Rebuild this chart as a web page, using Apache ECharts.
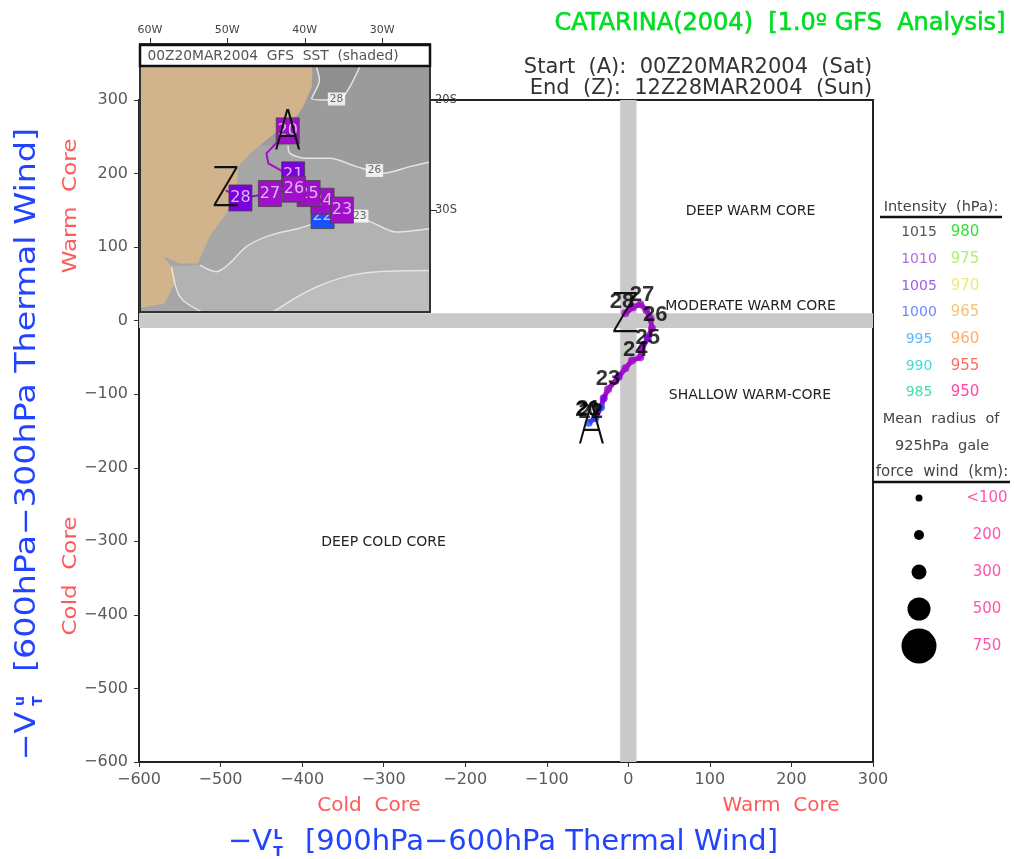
<!DOCTYPE html>
<html><head><meta charset="utf-8">
<style>html,body{margin:0;padding:0;background:#fff}#c{width:1014px;height:859px;filter:blur(0.6px)}</style>
<script src="https://cdn.jsdelivr.net/npm/echarts@6/dist/echarts.min.js"></script>
</head><body><div id="c"></div>
<script>
// ---- main phase-space data
const trackX = [-48.6,-40.5,-33.5,-30.2,-24.9,-11.8,-3.7,4.5,14.7,15.9,23.7,29,27,22,14.7,5.7,-3.7];
const trackY = [-138.7,-132.7,-117.8,-105.5,-93.3,-76.1,-64.8,-54.3,-49.8,-39.8,-24,-10.4,3.2,14.5,22.3,18.2,10];
const trackP = [1000,1000,1000,1005,1010,1005,1010,1010,1010,1010,1005,1010,1010,1010,1010,1010,1010];
const dayLabels = ['20','21','22','23','24','25','26','27','28'];
const dayX = [-50,-49,-46,-24.9,8.6,23.7,33.1,16.8,-7.7];
const dayY = [-122,-120,-124,-79.3,-39.8,-24,7.7,34.9,25];
const startEndMain = [[-45,-146,'A'],[-3.7,3.7,'Z']];
const tickMin = -600, xMax = 300, yMax = 300, tickStep = 100;
const neutralBand = [-10,10];
// ---- inset map data (lon, lat)
const coast = [[-39,-17],[-39.1,-18.8],[-40.2,-20.6],[-41.1,-21.5],[-42.8,-22.4],[-44.7,-23.5],[-47.1,-24.85],[-48.6,-26.06],[-48.8,-27.9],[-50.1,-30.3],[-52.3,-32.4],[-53.8,-34.85],[-56.1,-34.85],[-58.3,-34.2],[-57.2,-35.15],[-56.6,-36.4],[-58.1,-38.5],[-61.3,-38.9],[-61.4,-39.27],[-61.4,-17]];
const c28 = [[-38.5,-16.97],[-38.1,-18.2],[-39.1,-19.85],[-36.8,-20],[-35.05,-19.7],[-32.9,-16.97]];
const c26 = [[-42.15,-24.1],[-41.9,-24.85],[-39.8,-25.3],[-36.8,-25.3],[-33.3,-26.05],[-29.9,-26.65],[-26.45,-26.05],[-23.7,-25.6]];
const c23 = [[-53.55,-35],[-51.4,-35.6],[-49.7,-34.85],[-47.5,-33.3],[-44.5,-32.3],[-40.65,-31.65],[-36.8,-30.9],[-32.5,-30.9],[-28.2,-32],[-23.7,-31.65]];
const c20a = [[-57.2,-35.15],[-56.1,-37.9],[-53.3,-39.27]];
const c20b = [[-44.1,-39.27],[-38.5,-37],[-32.5,-35.75],[-23.7,-35.5]];
const sstLabels = [[-35.9,-19.9,'28'],[-31,-26.4,'26'],[-32.9,-30.55,'23']];
const mapTrack = [[-43.65,-23.9],[-44.95,-24.85],[-44.7,-25.75],[-42.8,-26.5],[-41.5,-26.8],[-37.7,-30.5],[-35.2,-30],[-37.7,-29.2],[-39.5,-28.5],[-41.4,-28.1],[-44.5,-28.5],[-46.3,-28.7],[-48.3,-28.9],[-50.2,-28.2]];
// draw order follows the overlap seen in the picture
const boxDays = ['20','21','22','24','23','25','27','26','28'];
const boxLon = [-42.2,-41.5,-37.7,-37.7,-35.2,-39.5,-44.5,-41.4,-48.3];
const boxLat = [-22.8,-26.8,-30.5,-29.2,-30,-28.5,-28.5,-28.1,-28.9];
const boxP = [1010,1005,1000,1010,1010,1010,1010,1010,1005];
const startEndMap = [[-42.2,-23.1,'A'],[-50.2,-28.3,'Z']];
// ---- legend
const intensityLeft = ['1015','1010','1005','1000','995','990','985'];
const intensityRight = ['980','975','970','965','960','955','950'];
const leftColors = ['#555555','#b468e4','#a25ce8','#6f86ff','#55bbff','#3fdcdc','#3fe0a8'];
const rightColors = ['#35e035','#b0f070','#ecec78','#f2c47c','#ffad6a','#ff6a60','#ff45a5'];
const radiusLabels = ['<100','200','300','500','750'];
const radiusDot = [7,10,15,23,35];
const pressureColor = {1000:'#1a50ff',1005:'#7a00e0',1010:'#a010c8'};

const TXT = "'DejaVu Sans'";
const txt = (x,y,text,size,fill,extra,styleExtra) => Object.assign({type:'text',x,y,z:50,silent:true,
  style:Object.assign({text,fill,font:`${size}px ${TXT}`,textAlign:'center',textVerticalAlign:'middle'},styleExtra||{})},extra||{});
const graphics = [];
// inset header and frame
graphics.push({type:'rect',z:40,shape:{x:140,y:44,width:290,height:268},style:{fill:'none',stroke:'#333',lineWidth:2}});
graphics.push({type:'rect',z:41,shape:{x:140,y:45,width:290,height:21},style:{fill:'#fff',stroke:'#111',lineWidth:2.5}});
graphics.push(txt(273,56,'00Z20MAR2004  GFS  SST  (shaded)',13.8,'#555'));
// titles
graphics.push(txt(780,24,'CATARINA(2004)  [1.0º GFS  Analysis]',24,'#00dd22',null,{stroke:'#00dd22',lineWidth:0.6}));
graphics.push(txt(698,68,'Start  (A):  00Z20MAR2004  (Sat)',21,'#333'));
graphics.push(txt(701,89,'End  (Z):  12Z28MAR2004  (Sun)',21,'#333'));
// region names
[['DEEP WARM CORE',750.5,211],['MODERATE WARM CORE',750.5,306],['SHALLOW WARM-CORE',750,395],['DEEP COLD CORE',383.5,542]]
 .forEach(r=>graphics.push(txt(r[1],r[2],r[0],14,'#222')));
// red core labels
const red='#ff5a5a';
graphics.push(txt(369,806,'Cold  Core',20,red));
graphics.push(txt(781,806,'Warm  Core',20,red));
graphics.push(txt(71,206,'Warm  Core',20,red,{rotation:Math.PI/2,scaleX:1.15}));
graphics.push(txt(71,576,'Cold  Core',20,red,{rotation:Math.PI/2,scaleX:1.15}));
// axis titles
const blue='#2244ff';
const sb={font:`bold 14px ${TXT}`};
graphics.push(txt(250,842,'−V',29,blue));
graphics.push(txt(278,852,'T',14,blue,null,sb));
graphics.push(txt(278,835,'L',14,blue,null,sb));
graphics.push(txt(541.5,842,'[900hPa−600hPa Thermal Wind]',29,blue));
graphics.push(txt(27,736,'−V',29,blue,{rotation:Math.PI/2,scaleX:1.1}));
graphics.push(txt(38,701,'T',14,blue,{rotation:Math.PI/2},sb));
graphics.push(txt(20,701,'u',14,blue,{rotation:Math.PI/2},sb));
graphics.push(txt(27,400,'[600hPa−300hPa Thermal Wind]',29,blue,{rotation:Math.PI/2,scaleX:1.15}));
// legend
graphics.push(txt(941,207,'Intensity  (hPa):',14.5,'#444'));
graphics.push({type:'line',z:50,shape:{x1:880,y1:217,x2:1002,y2:217},style:{stroke:'#111',lineWidth:2.5}});
const rowY=[232,259,286,312,339,366,392];
rowY.forEach((y,i)=>{
  graphics.push(txt(919,y,intensityLeft[i],14,leftColors[i]));
  graphics.push(txt(965,y,intensityRight[i],15,rightColors[i]));
});
graphics.push(txt(941,419,'Mean  radius  of',14.5,'#444'));
graphics.push(txt(942,446,'925hPa  gale',14.5,'#444'));
graphics.push(txt(942,472,'force  wind  (km):',15,'#444'));
graphics.push({type:'line',z:50,shape:{x1:873,y1:482,x2:1010,y2:482},style:{stroke:'#111',lineWidth:2.5}});
const dotY=[498,535,572,609,646];
dotY.forEach((y,i)=>{
  graphics.push({type:'circle',z:50,shape:{cx:919,cy:y,r:radiusDot[i]/2},style:{fill:'#000'}});
  graphics.push(txt(987,y,radiusLabels[i],15,'#ff55aa'));
});

const poly=(pts,fill,z)=>({type:'custom',xAxisIndex:1,yAxisIndex:1,z,silent:true,clip:false,
  data:[0],encode:{x:[],y:[]},
  renderItem:(p,api)=>({type:'polygon',shape:{points:pts.map(q=>api.coord(q))},style:{fill,stroke:null}})});
const contour=(pts)=>({type:'line',xAxisIndex:1,yAxisIndex:1,z:5,silent:true,symbol:'none',smooth:0.3,
  data:pts,lineStyle:{color:'#e4e4e4',width:1.5}});
const letter=(pts,xi,size,z)=>({type:'custom',xAxisIndex:xi,yAxisIndex:xi,z,silent:true,clip:false,
  data:pts,encode:{x:0,y:1},
  renderItem:(p,api)=>{const c=api.coord([api.value(0),api.value(1)]);
    return {type:'text',x:c[0],y:c[1],scaleX:0.72,scaleY:1,
      style:{text:pts[p.dataIndex][2],fill:'#111',font:`200 ${size}px 'DejaVu Sans'`,textAlign:'center',textVerticalAlign:'middle'}};}});

const L=-61.4,R=-23.7,B=-39.27,T=-17;
const option={
  animation:false,backgroundColor:'#fff',
  grid:[{left:139,top:100,width:734,height:662,show:true,borderColor:'#222',borderWidth:2,backgroundColor:'#fff'},
        {left:139,top:44,width:292,height:268,show:false}],
  xAxis:[{type:'value',min:tickMin,max:xMax,interval:tickStep,position:'bottom',splitLine:{show:false},
          axisLine:{onZero:false,lineStyle:{color:'#222',width:2}},axisTick:{length:5,lineStyle:{color:'#333'}},
          axisLabel:{color:'#5a5a5a',fontFamily:'DejaVu Sans',fontSize:16,margin:10,formatter:v=>String(v).replace('-','−')}},
         {gridIndex:1,type:'value',min:L,max:R,position:'top',splitLine:{show:false},axisLine:{show:false},
          axisTick:{length:6,customValues:[-60,-50,-40,-30],lineStyle:{color:'#333'}},
          axisLabel:{customValues:[-60,-50,-40,-30],color:'#444',fontFamily:'DejaVu Sans',fontSize:11,margin:8,formatter:v=>Math.abs(v)+'W'}}],
  yAxis:[{type:'value',min:tickMin,max:yMax,interval:tickStep,position:'left',splitLine:{show:false},
          axisLine:{onZero:false,lineStyle:{color:'#222',width:2}},axisTick:{length:5,lineStyle:{color:'#333'}},
          axisLabel:{color:'#5a5a5a',fontFamily:'DejaVu Sans',fontSize:16,margin:11,formatter:v=>String(v).replace('-','−')}},
         {gridIndex:1,type:'value',min:B,max:-14.9,position:'right',splitLine:{show:false},axisLine:{show:false},
          axisTick:{length:6,customValues:[-30,-20],lineStyle:{color:'#333'}},
          axisLabel:{customValues:[-30,-20],color:'#444',fontFamily:'DejaVu Sans',fontSize:11.5,margin:4,formatter:v=>Math.abs(v)+'S'}}],
  graphic:graphics,
  series:[
    {type:'custom',xAxisIndex:0,yAxisIndex:0,z:1,silent:true,clip:false,data:[0],encode:{x:[],y:[]},
     renderItem:(p,api)=>{
       const a=api.coord([neutralBand[0],yMax]),b=api.coord([neutralBand[1],tickMin]);
       const c=api.coord([tickMin,neutralBand[1]]),d=api.coord([xMax,neutralBand[0]]);
       return {type:'group',children:[
         {type:'rect',shape:{x:a[0],y:a[1],width:b[0]-a[0],height:b[1]-a[1]},style:{fill:'#c9c9c9'}},
         {type:'rect',shape:{x:c[0],y:c[1],width:d[0]-c[0],height:d[1]-c[1]},style:{fill:'#c9c9c9'}}]};}},
    {type:'line',xAxisIndex:0,yAxisIndex:0,z:6,silent:true,symbol:'none',data:trackX.map((x,i)=>[x,trackY[i]]),lineStyle:{color:'#a010c8',width:5}},
    {type:'scatter',xAxisIndex:0,yAxisIndex:0,z:7,silent:true,symbolSize:8,
     data:trackX.map((x,i)=>({value:[x,trackY[i]],itemStyle:{color:pressureColor[trackP[i]]}}))},
    {type:'scatter',xAxisIndex:0,yAxisIndex:0,z:8,silent:true,symbolSize:0,
     data:dayX.map((x,i)=>[x,dayY[i],dayLabels[i]]),
     label:{show:true,position:'inside',formatter:p=>p.value[2],color:'#000',textBorderWidth:0,fontFamily:'Liberation Sans',fontWeight:'bold',fontSize:22}},
    letter(startEndMain,0,56,9),
    // inset shading
    poly([[L,B],[R,B],[R,-14.9],[L,-14.9]],'#9b9b9b',3),
    poly(c28,'#8f8f8f',3),
    poly(c26.concat([[R,B],[L,B],[L,-24.1]]),'#a6a6a6',3),
    poly(c23.concat([[R,B],[-53.3,B],[-56.1,-37.9],[-57.2,-35.15]]),'#b2b2b2',3),
    poly(c20b.concat([[R,B]]),'#bdbdbd',3),
    poly(coast,'#d2b48c',4),
    contour(c28),contour(c26),contour(c23),contour(c20a),contour(c20b),
    {type:'scatter',xAxisIndex:1,yAxisIndex:1,z:6,silent:true,symbolSize:0,data:sstLabels,
     label:{show:true,position:'inside',formatter:p=>p.value[2],color:'#444',textBorderWidth:0,backgroundColor:'#fff',padding:[1,2],fontFamily:'DejaVu Sans',fontSize:10.5}},
    {type:'line',xAxisIndex:1,yAxisIndex:1,z:7,silent:true,symbol:'none',data:mapTrack,lineStyle:{color:'#a010c8',width:2}},
    {type:'custom',xAxisIndex:1,yAxisIndex:1,z:8,silent:true,clip:false,
     data:boxLon.map((x,i)=>[x,boxLat[i]]),encode:{x:0,y:1},
     renderItem:(p,api)=>{const c=api.coord([api.value(0),api.value(1)]);const i=p.dataIndex;
       return {type:'group',x:c[0],y:c[1],children:[
         {type:'rect',shape:{x:-11.5,y:-13,width:23,height:26},style:{fill:pressureColor[boxP[i]],stroke:'#444',lineWidth:0.8}},
         {type:'text',style:{text:boxDays[i],fill:'#dcb8f4',font:"16px 'DejaVu Sans'",textAlign:'center',textVerticalAlign:'middle'}}]};}},
    letter(startEndMap,1,56,9)
  ]
};
const chart=echarts.init(document.getElementById('c'),null,{renderer:'canvas'});
chart.setOption(option);
</script></body></html>
